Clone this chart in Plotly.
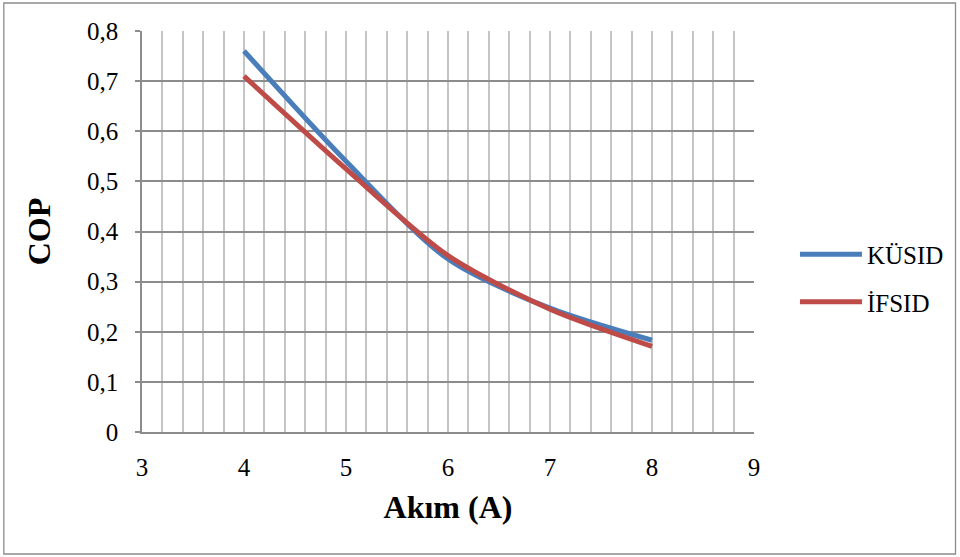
import plotly.graph_objects as go

# Current (A) values and COP for the two systems
akim = [4, 5, 6, 7, 8]
cop_kusid = [0.76, 0.54, 0.345, 0.247, 0.183]
cop_ifsid = [0.71, 0.525, 0.352, 0.245, 0.171]

x_ticks = [3, 4, 5, 6, 7, 8, 9]
y_ticks = [0, 0.1, 0.2, 0.3, 0.4, 0.5, 0.6, 0.7, 0.8]

W, H = 960, 557
ML, MR, MT, MB = 141.5, 205, 31, 125
pw, ph = W - ML - MR, H - MT - MB

serif = "Liberation Serif, Times New Roman, serif"

fig = go.Figure()
fig.add_trace(go.Scatter(
    x=akim, y=cop_kusid, name="KÜSID", mode="lines", legendgroup="a",
    line=dict(color="#4A7EBB", width=5, shape="spline", smoothing=0.8),
))
fig.add_trace(go.Scatter(
    x=akim, y=cop_ifsid, name="İFSID", mode="lines", legendgroup="b",
    line=dict(color="#BE4B48", width=5, shape="spline", smoothing=0.8),
))

# outer chart frame
fig.add_shape(
    type="rect", xref="paper", yref="paper",
    x0=(3 - ML) / pw, x1=(W - 3 - ML) / pw,
    y0=-(H - 3 - MT - ph) / ph, y1=1 + (MT - 3) / ph,
    line=dict(color="#8C8C8C", width=1.3), layer="below",
)

fig.update_layout(
    width=W, height=H,
    margin=dict(l=ML, r=MR, t=MT, b=MB),
    paper_bgcolor="white", plot_bgcolor="white",
    separators=", ",
    font=dict(family=serif, size=25, color="black"),
    showlegend=True,
    legend=dict(
        x=(795 - ML) / pw, xanchor="left",
        y=1 - (278 - MT) / ph, yanchor="middle",
        font=dict(family=serif, size=25, color="black"),
        bgcolor="rgba(0,0,0,0)", tracegroupgap=12, itemwidth=62,
    ),
    xaxis=dict(
        range=[3, 9], tickvals=x_ticks,
        showgrid=True, gridcolor="#C4C4C4", gridwidth=1.5,
        minor=dict(dtick=0.2, showgrid=True, gridcolor="#C4C4C4", gridwidth=1.5),
        showline=True, linecolor="#8C8C8C", linewidth=1.5,
        ticks="", ticklabelstandoff=12,
        zeroline=False,
        title=dict(text="<b>Akım (A)</b>", font=dict(family=serif, size=32), standoff=16),
    ),
    yaxis=dict(
        range=[0, 0.8], tickvals=y_ticks, tickformat=".1~f",
        showgrid=True, gridcolor="#8C8C8C", gridwidth=1.5,
        showline=True, linecolor="#8C8C8C", linewidth=1.5,
        ticks="outside", ticklen=5, tickcolor="#8C8C8C", tickwidth=1.5,
        ticklabelstandoff=12,
        zeroline=False,
        title=dict(text="<b>COP</b>", font=dict(family=serif, size=32), standoff=27),
    ),
)

fig.write_html("out.html")
